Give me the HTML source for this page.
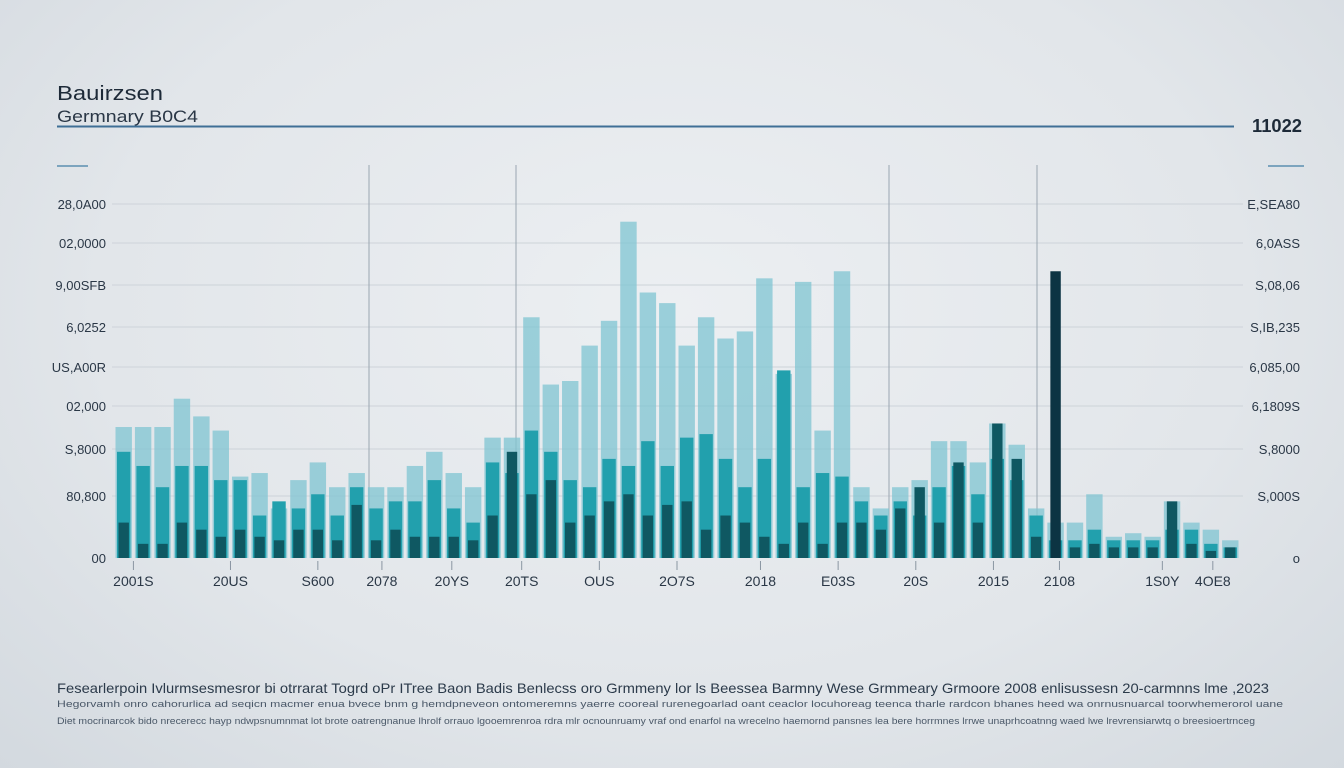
<!DOCTYPE html>
<html><head><meta charset="utf-8">
<style>
html,body{margin:0;padding:0;}
body{width:1344px;height:768px;overflow:hidden;background:radial-gradient(ellipse at 50% 40%,#eceff2 0%,#e2e6ea 60%,#d3d9df 100%);font-family:"Liberation Sans",sans-serif;}
svg{display:block}
</style></head>
<body>
<svg id="chart" width="1344" height="768" viewBox="0 0 1344 768" xmlns="http://www.w3.org/2000/svg">
<g>
<text x="57" y="100" font-size="20" fill="#1d2a38" textLength="106" lengthAdjust="spacingAndGlyphs">Bauirzsen</text>
<text x="57" y="122" font-size="17" fill="#2a3746" textLength="141" lengthAdjust="spacingAndGlyphs">Germnary B0C4</text>
<line x1="57" y1="126.5" x2="1234" y2="126.5" stroke="#3f6f96" stroke-width="2"/>
<text x="1252" y="132" font-size="18" font-weight="bold" fill="#1d2a38" textLength="50" lengthAdjust="spacingAndGlyphs">11022</text>
<line x1="57" y1="166" x2="88" y2="166" stroke="#5b8fb0" stroke-width="1.5"/>
<line x1="1268" y1="166" x2="1304" y2="166" stroke="#5b8fb0" stroke-width="1.5"/>
</g>
<g id="grid"></g>
<g id="bars"></g>
<g id="axes"></g>
<g>
<text x="57" y="693" font-size="14" fill="#2b3a4a" textLength="1212" lengthAdjust="spacingAndGlyphs">Fesearlerpoin Ivlurmsesmesror bi otrrarat Togrd oPr ITree Baon Badis Benlecss oro Grmmeny lor ls Beessea Barmny Wese Grmmeary Grmoore 2008 enlisussesn 20-carmnns lme ,2023</text>
<text x="57" y="707" font-size="9" fill="#4a5868" textLength="1226" lengthAdjust="spacingAndGlyphs">Hegorvamh onro cahorurlica ad seqicn macmer enua bvece bnm g hemdpneveon ontomeremns yaerre cooreal rurenegoarlad oant ceaclor locuhoreag teenca tharle rardcon bhanes heed wa onrnusnuarcal toorwhemerorol uane</text>
<text x="57" y="724" font-size="9" fill="#4a5868" textLength="1198" lengthAdjust="spacingAndGlyphs">Diet mocrinarcok bido nrecerecc hayp ndwpsnumnmat lot brote oatrengnanue lhrolf orrauo lgooemrenroa rdra mlr ocnounruamy vraf ond enarfol na wrecelno haemornd pansnes lea bere horrmnes lrrwe unaprhcoatnng waed lwe lrevrensiarwtq o breesioertrnceg</text>
</g>
</svg>
<script>
// Chart data
const yTickLeft = ["00","80,800","S,8000","02,000","US,A00R","6,0252","9,00SFB","02,0000","28,0A00"];
const yTickRight = ["o","S,000S","S,8000","6,1809S","6,085,00","S,IB,235","S,08,06","6,0ASS","E,SEA80"];
const xLabels = ["2001S","20US","S600","2078","20YS","20TS","OUS","2O7S","2018","E03S","20S","2015","2108","1S0Y","4OE8"];
const xLabelSlots = [1,6,10.5,13.8,17.4,21,25,29,33.3,37.3,41.3,45.3,48.7,54,56.6];
const lightSeries = [37,37,37,45,40,36,23,24,14,22,27,20,24,20,20,26,30,24,20,34,34,68,49,50,60,67,95,75,72,60,68,62,64,79,52,78,36,81,20,14,20,22,33,33,27,38,32,14,10,10,18,6,7,6,16,10,8,5];
const midSeries = [30,26,20,26,26,22,22,12,16,14,18,12,20,14,16,16,22,14,10,27,24,36,30,22,20,28,26,33,26,34,35,28,20,28,53,20,24,23,16,12,16,12,20,26,18,28,22,12,5,5,8,5,5,5,8,8,4,3];
const darkSeries = [10,4,4,10,8,6,8,6,5,8,8,5,15,5,8,6,6,6,5,12,30,18,22,10,12,16,18,12,15,16,8,12,10,6,4,10,4,10,10,8,14,20,10,27,10,38,28,6,81,3,4,3,3,3,16,4,2,3];
const maxVal = 100;

const NS="http://www.w3.org/2000/svg";
const plotL=114, plotR=1240, baseY=558, topY=204;
const slotW=(plotR-plotL)/lightSeries.length;
function xPos(i){return plotL+slotW*i;}
function yPos(v){return baseY-(v/maxVal)*(baseY-topY);}
function mk(tag,attrs,parent){const e=document.createElementNS(NS,tag);for(const k in attrs)e.setAttribute(k,attrs[k]);parent.appendChild(e);return e;}

const grid=document.getElementById('grid');
const gridYs=[204,243,285,327,367,406,449,496];
gridYs.forEach((gy,i)=>{
  const l=mk('line',{x1:112,x2:1243,y1:gy,y2:gy,stroke:'#cdd3d9','stroke-width':1},grid);
  
  
});
[369,516,889,1037].forEach(vx=>{
  const l=mk('line',{x1:vx,x2:vx,y1:165,y2:558,stroke:'#9aa6b1','stroke-width':1},grid);
  
  
});

const bars=document.getElementById('bars');
lightSeries.forEach((v,i)=>{
  const x=xPos(i);
  const r=mk('rect',{x:x+1.5,y:yPos(v),width:slotW-3,height:baseY-yPos(v),fill:'#7fc4d2','fill-opacity':0.75},bars);
  
  
});
midSeries.forEach((v,i)=>{
  const x=xPos(i);
  const r=mk('rect',{x:x+3,y:yPos(v),width:slotW-6,height:baseY-yPos(v),fill:'#22a0ad'},bars);
  
  
});
darkSeries.forEach((v,i)=>{
  const x=xPos(i);
  const r=mk('rect',{x:x+4.5,y:yPos(v),width:slotW-9,height:baseY-yPos(v),fill:v>60?'#0c3443':'#0f5862'},bars);
  
  
});

const axes=document.getElementById('axes');
yTickLeft.forEach((t,i)=>{
  const ty=(i===0?558:gridYs[gridYs.length-i])+5;
  const e=mk('text',{x:106,y:ty,'font-size':13,fill:'#2a3746','text-anchor':'end'},axes);
  e.textContent=t;
  
  
});
yTickRight.forEach((t,i)=>{
  const ty=(i===0?558:gridYs[gridYs.length-i])+5;
  const e=mk('text',{x:1300,y:ty,'font-size':13,fill:'#2a3746','text-anchor':'end'},axes);
  e.textContent=t;
  
  
});
xLabels.forEach((t,i)=>{
  const cx=xPos(xLabelSlots[i]);
  const tk=mk('line',{x1:cx,x2:cx,y1:561,y2:570,stroke:'#8a96a2','stroke-width':1},axes);
  
  
  const e=mk('text',{x:cx,y:586,'font-size':14,fill:'#2a3746','text-anchor':'middle'},axes);
  e.textContent=t;
  
  
});
</script>
</body></html>
